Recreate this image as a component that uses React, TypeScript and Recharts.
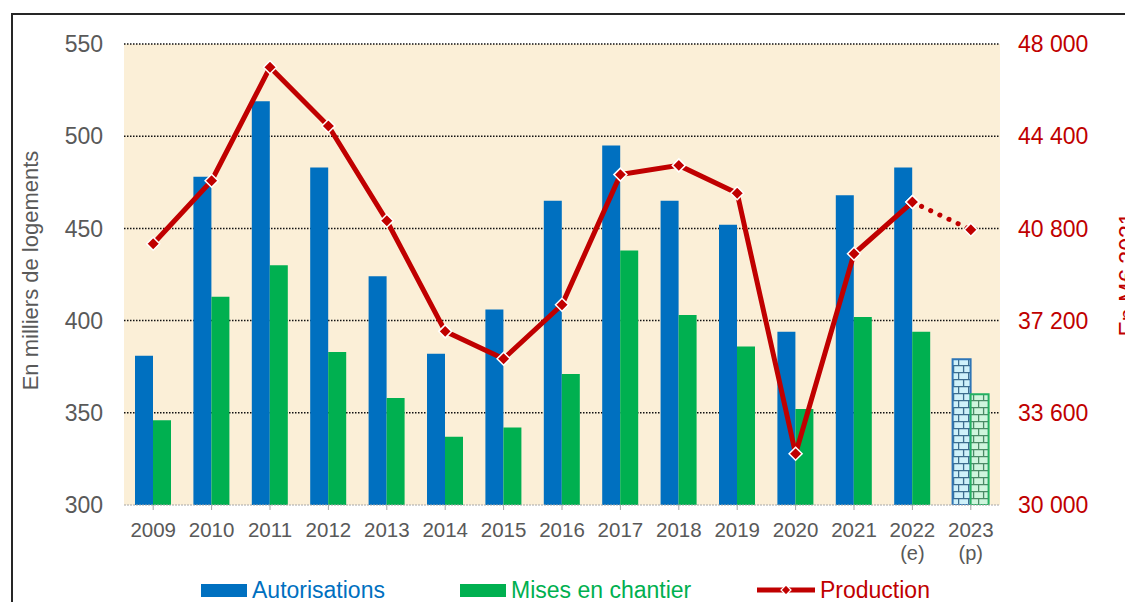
import React from "react";
import {
  ComposedChart,
  Bar,
  Line,
  Cell,
  XAxis,
  YAxis,
  CartesianGrid,
  Legend,
} from "recharts";

const years = ["2009", "2010", "2011", "2012", "2013", "2014", "2015", "2016", "2017", "2018", "2019", "2020", "2021", "2022", "2023"];
const yearNotes = ["", "", "", "", "", "", "", "", "", "", "", "", "", "(e)", "(p)"];
const autorisations = [381, 478, 519, 483, 424, 382, 406, 465, 495, 465, 452, 394, 468, 483, 379];
const misesEnChantier = [346, 413, 430, 383, 358, 337, 342, 371, 438, 403, 386, 352, 402, 394, 360];
const production = [40200, 42660, 47090, 44800, 41100, 36780, 35710, 37820, 42900, 43260, 42170, 32000, 39810, 41830, 40750];
const forecastFrom = 13; // 2022 (e) -> 2023 (p) drawn dotted

const leftTicks = [300, 350, 400, 450, 500, 550];
const rightTicks = [30000, 33600, 37200, 40800, 44400, 48000];

const data = years.map((y, i) => ({
  year: y,
  note: yearNotes[i],
  autorisations: autorisations[i],
  mises: misesEnChantier[i],
  prod: i <= forecastFrom ? production[i] : null,
  prodForecast: i >= forecastFrom ? production[i] : null,
}));

const FONT = '"Liberation Sans", Arial, sans-serif';
const BLUE = "#0070C0";
const GREEN = "#00B050";
const RED = "#C00000";
const GREY = "#595959";

const fmt = (v: number) => String(v).replace(/\B(?=(\d{3})+(?!\d))/g, " ");

const Diamond = (props: any) => {
  const { cx, cy, value } = props;
  if (value == null || cx == null || cy == null) return <g key={props.index} />;
  const r = 6.5;
  return (
    <polygon
      key={props.index}
      points={`${cx},${cy - r} ${cx + r},${cy} ${cx},${cy + r} ${cx - r},${cy}`}
      fill={RED}
      stroke="#fff"
      strokeWidth={1.5}
    />
  );
};

const YearTick = (props: any) => {
  const { x, y, payload } = props;
  const i = years.indexOf(payload.value);
  return (
    <g>
      <text x={x} y={y} dy={27} textAnchor="middle" fill={GREY} fontSize={20.5} fontFamily={FONT}>
        {payload.value}
      </text>
      {yearNotes[i] ? (
        <text x={x} y={y} dy={50} textAnchor="middle" fill={GREY} fontSize={20} fontFamily={FONT}>
          {yearNotes[i]}
        </text>
      ) : null}
    </g>
  );
};

const legendItems = [
  { name: "Autorisations", color: BLUE, kind: "bar", width: 259 },
  { name: "Mises en chantier", color: GREEN, kind: "bar", width: 297 },
  { name: "Production", color: RED, kind: "line", width: 0 },
];

const LegendContent = () => (
  <div style={{ display: "flex", alignItems: "center", fontFamily: FONT, fontSize: 23, lineHeight: 1, height: 24 }}>
    {legendItems.map((it) => (
      <div
        key={it.name}
        style={{ display: "flex", alignItems: "center", width: it.width || undefined, color: it.color }}
      >
        {it.kind === "bar" ? (
          <span style={{ display: "inline-block", width: 46, height: 13, background: it.color, marginRight: 5 }} />
        ) : (
          <svg width={58} height={14} style={{ marginRight: 5 }}>
            <line x1={0} y1={7} x2={58} y2={7} stroke={it.color} strokeWidth={5} />
            <polygon points="29,2 34,7 29,12 24,7" fill={it.color} stroke="#fff" strokeWidth={1.2} />
          </svg>
        )}
        <span>{it.name}</span>
      </div>
    ))}
  </div>
);

export default function App() {
  return (
    <div style={{ position: "relative", width: 1125, height: 594, overflow: "hidden", background: "#fff" }}>
      <div
        style={{
          position: "absolute",
          left: 3,
          top: 5,
          width: 1200,
          height: 700,
          border: "2px solid #262626",
          boxSizing: "border-box",
        }}
      />
      <div style={{ position: "absolute", left: 0, top: 0 }}>
        <ComposedChart
          width={1140}
          height={592}
          data={data}
          margin={{ top: 36, right: 0, bottom: 35, left: 0 }}
          barGap={0}
          style={{ fontFamily: FONT }}
        >
          <defs>
            <pattern id="brickBlue" width="10" height="14" patternUnits="userSpaceOnUse">
              <rect width="10" height="14" fill="#CFF1FA" />
              <path d="M0 0.6H10 M0 7.6H10 M0.6 0V7 M5.6 7V14" stroke="#3D6D8E" strokeWidth={1.3} />
            </pattern>
            <pattern id="brickGreen" width="10" height="14" patternUnits="userSpaceOnUse">
              <rect width="10" height="14" fill="#CFF5DD" />
              <path d="M0 0.6H10 M0 7.6H10 M0.6 0V7 M5.6 7V14" stroke="#4B8A66" strokeWidth={1.3} />
            </pattern>
          </defs>
          <CartesianGrid
            yAxisId="left"
            vertical={false}
            fill="#FBEFD7"
            fillOpacity={1}
            stroke="#111"
            strokeWidth={1.5}
            strokeDasharray="1.5 1.5"
            horizontalValues={[350, 400, 450, 500, 550]}
          />
          <XAxis
            dataKey="year"
            height={60}
            interval={0}
            tick={<YearTick />}
            axisLine={{ stroke: "#A6A6A6", strokeDasharray: "2 1" }}
            tickLine={{ stroke: "#A6A6A6" }}
            tickSize={5}
            tickMargin={0}
          />
          <YAxis
            yAxisId="left"
            width={116}
            domain={[300, 550]}
            ticks={leftTicks}
            allowDataOverflow
            axisLine={false}
            tickLine={false}
            tickSize={0}
            tickMargin={21}
            tick={{ fill: GREY, fontSize: 23, fontFamily: FONT }}
            label={(p: any) => {
              const vb = p.viewBox;
              const cx = vb.x + 29.5;
              const cy = vb.y + vb.height / 2 - 4;
              return (
                <text
                  transform={`translate(${cx},${cy}) rotate(-90)`}
                  textAnchor="middle"
                  fill={GREY}
                  fontSize={22}
                  fontFamily={FONT}
                >
                  En milliers de logements
                </text>
              );
            }}
          />
          <YAxis
            yAxisId="prod"
            orientation="right"
            width={148}
            domain={[30000, 48000]}
            ticks={rightTicks}
            allowDataOverflow
            axisLine={false}
            tickLine={false}
            tickSize={0}
            tickMargin={18}
            tickFormatter={fmt}
            tick={{ fill: RED, fontSize: 23, fontFamily: FONT }}
            label={(p: any) => {
              const vb = p.viewBox;
              const cx = vb.x + 136;
              const cy = vb.y + vb.height / 2;
              return (
                <text
                  transform={`translate(${cx},${cy}) rotate(-90)`}
                  textAnchor="middle"
                  fill={RED}
                  fontSize={23}
                  fontFamily={FONT}
                >
                  En M€ 2021
                </text>
              );
            }}
          />
          <Legend
            layout="horizontal"
            verticalAlign="middle"
            align="center"
            content={<LegendContent />}
            wrapperStyle={{ top: 570, left: 193, width: 900, height: 24 }}
          />
          <Bar yAxisId="left" dataKey="autorisations" name="Autorisations" fill={BLUE} barSize={18} isAnimationActive={false}>
            {data.map((d, i) => (
              <Cell
                key={d.year}
                fill={yearNotes[i] === "(p)" ? "url(#brickBlue)" : BLUE}
                stroke={yearNotes[i] === "(p)" ? "#2E75B6" : "none"}
                strokeWidth={yearNotes[i] === "(p)" ? 2 : 0}
              />
            ))}
          </Bar>
          <Bar yAxisId="left" dataKey="mises" name="Mises en chantier" fill={GREEN} barSize={18} isAnimationActive={false}>
            {data.map((d, i) => (
              <Cell
                key={d.year}
                fill={yearNotes[i] === "(p)" ? "url(#brickGreen)" : GREEN}
                stroke={yearNotes[i] === "(p)" ? "#22B061" : "none"}
                strokeWidth={yearNotes[i] === "(p)" ? 2 : 0}
              />
            ))}
          </Bar>
          <Line
            yAxisId="prod"
            dataKey="prod"
            name="Production"
            stroke={RED}
            strokeWidth={5}
            dot={Diamond}
            activeDot={false}
            connectNulls={false}
            isAnimationActive={false}
          />
          <Line
            yAxisId="prod"
            dataKey="prodForecast"
            legendType="none"
            stroke={RED}
            strokeWidth={5}
            strokeDasharray="0.1 10"
            strokeLinecap="round"
            dot={Diamond}
            activeDot={false}
            isAnimationActive={false}
          />
        </ComposedChart>
      </div>
    </div>
  );
}
